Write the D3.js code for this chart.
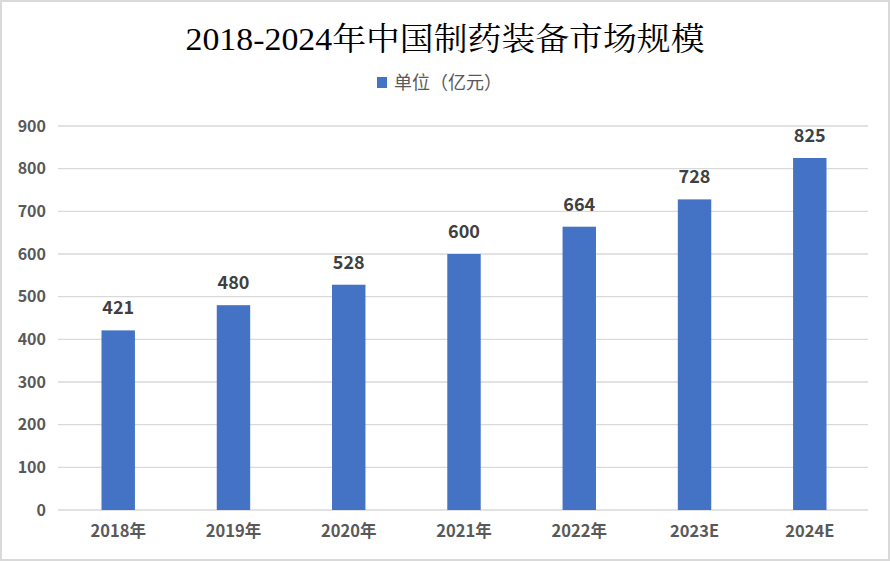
<!DOCTYPE html>
<html>
<head>
<meta charset="utf-8">
<script src="https://cdn.jsdelivr.net/npm/d3@7"></script>
<style>
  body { margin: 0; background: #fff; }
  svg { display: block; }
</style>
</head>
<body>
<svg id="chart" width="890" height="561"></svg>
<script>
// chart data
var years = ["2018年", "2019年", "2020年", "2021年", "2022年", "2023E", "2024E"]
var market = [421, 480, 528, 600, 664, 728, 825]
var yTicks = [0, 100, 200, 300, 400, 500, 600, 700, 800, 900]
var title = "2018-2024年中国制药装备市场规模"
var legendLabel = "单位（亿元）"

var sans = "'Microsoft YaHei', 'Noto Sans CJK SC', 'Noto Sans', sans-serif"
var width = 890, height = 561
var margin = {top: 126, right: 22, bottom: 51, left: 58}

var svg = d3.select("#chart")

// outer frame
svg.append("rect")
    .attr("x", 1).attr("y", 1)
    .attr("width", width - 2).attr("height", height - 2)
    .attr("fill", "#fff")
    .attr("stroke", "#d9d9d9").attr("stroke-width", 2)

var x = d3.scaleBand()
    .domain(years)
    .range([margin.left + 2, width - margin.right])
    .paddingInner(0.71).paddingOuter(0.36)

var y = d3.scaleLinear()
    .domain([0, 900])
    .range([height - margin.bottom, margin.top])

// gridlines
svg.append("g")
    .selectAll("line")
    .data(yTicks).enter()
    .append("line")
    .attr("x1", margin.left).attr("x2", width - margin.right)
    .attr("y1", d => y(d)).attr("y2", d => y(d))
    .attr("stroke", "#d9d9d9").attr("stroke-width", 1.3)

// y axis labels
var yAxis = svg.append("g")
    .attr("transform", `translate(${margin.left - 12},0)`)
    .call(d3.axisLeft(y).tickValues(yTicks).tickSize(0).tickPadding(0))
yAxis.select(".domain").remove()
yAxis.selectAll("text")
    .attr("font-family", sans)
    .attr("font-size", 16).attr("font-weight", "bold")
    .attr("fill", "#595959")

// x axis labels
var xAxis = svg.append("g")
    .attr("transform", `translate(0,${height - margin.bottom})`)
    .call(d3.axisBottom(x).tickSize(0).tickPadding(15))
xAxis.select(".domain").remove()
xAxis.selectAll("text")
    .attr("font-family", sans)
    .attr("font-size", 16.5).attr("font-weight", "bold")
    .attr("fill", "#595959")

// bars
var data = years.map((d, i) => ({year: d, value: market[i]}))
svg.append("g")
    .selectAll("rect")
    .data(data).enter()
    .append("rect")
    .attr("x", d => x(d.year))
    .attr("width", x.bandwidth())
    .attr("y", d => y(d.value))
    .attr("height", d => y(0) - y(d.value))
    .attr("fill", "#4472c4")

// value labels
svg.append("g")
    .selectAll("text")
    .data(data).enter()
    .append("text")
    .attr("x", d => x(d.year) + x.bandwidth() / 2)
    .attr("y", d => y(d.value) - 16)
    .attr("text-anchor", "middle")
    .attr("font-family", sans)
    .attr("font-size", 18).attr("font-weight", "bold")
    .attr("fill", "#404040")
    .text(d => d.value)

// title
svg.append("text")
    .attr("x", width / 2).attr("y", 50)
    .attr("text-anchor", "middle")
    .attr("font-family", "'Liberation Serif', 'Noto Serif CJK SC', 'Noto Sans CJK SC', serif")
    .attr("font-size", 32)
    .attr("fill", "#000")
    .attr("textLength", 519).attr("lengthAdjust", "spacingAndGlyphs")
    .text(title)

// legend
svg.append("rect")
    .attr("x", 377).attr("y", 77)
    .attr("width", 10).attr("height", 11)
    .attr("fill", "#4472c4")
svg.append("text")
    .attr("x", 394).attr("y", 89)
    .attr("font-family", sans)
    .attr("font-size", 18)
    .attr("fill", "#595959")
    .text(legendLabel)
</script>
</body>
</html>
